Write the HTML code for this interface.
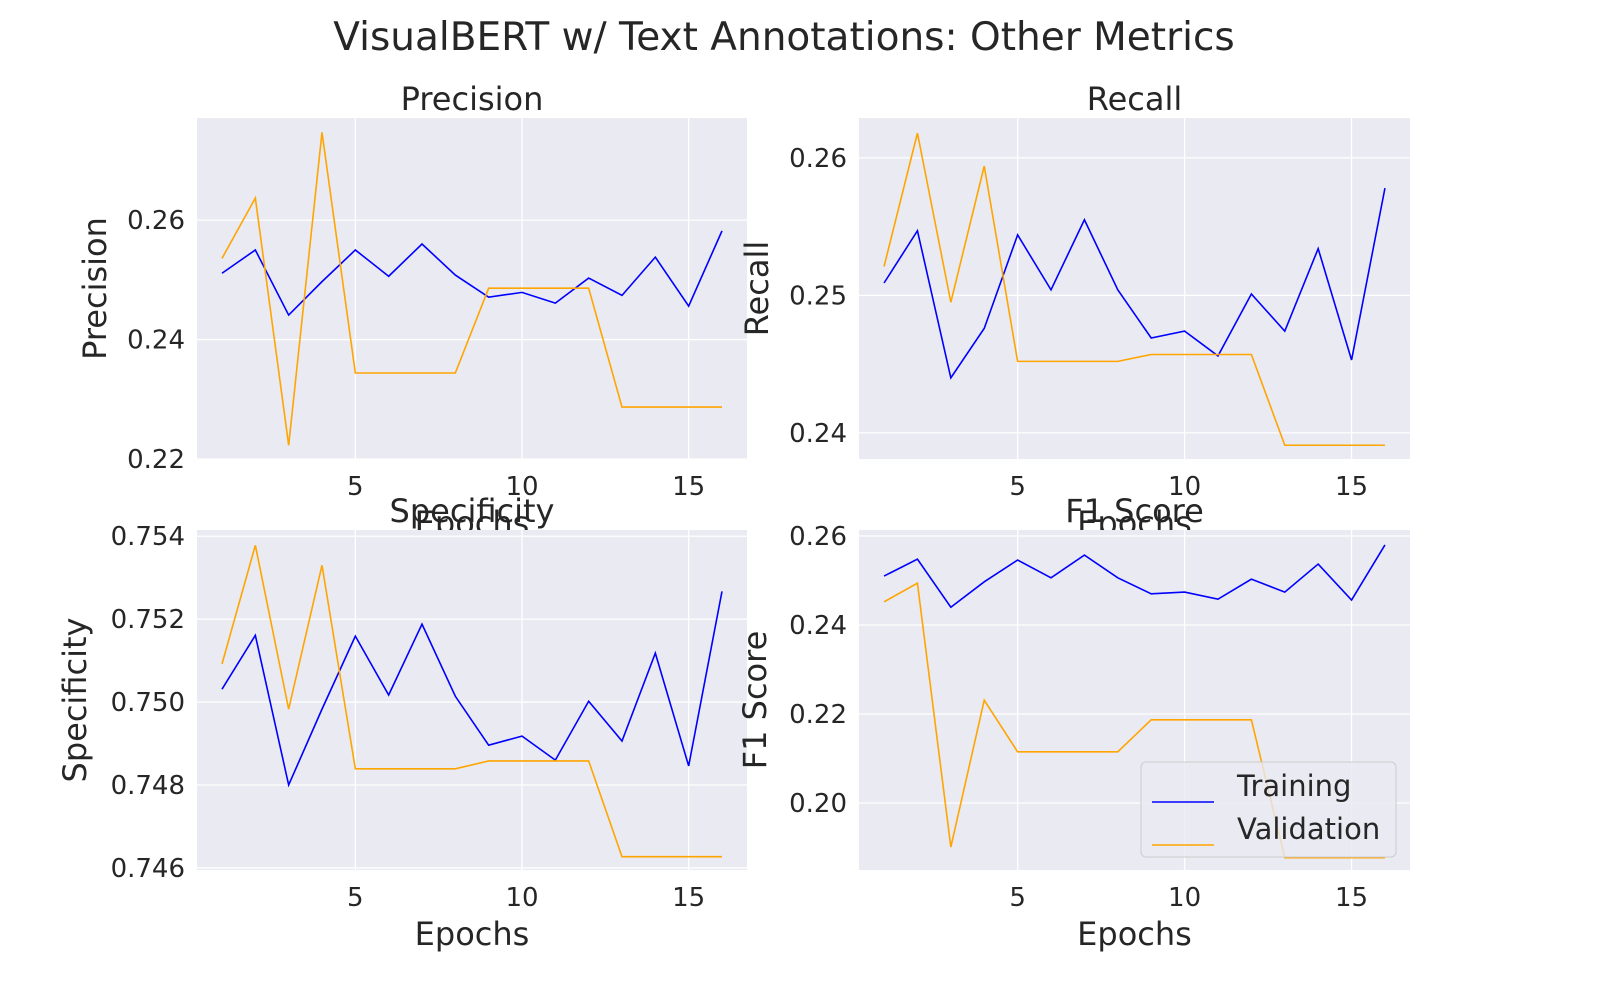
<!DOCTYPE html>
<html><head><meta charset="utf-8"><style>
html,body{margin:0;padding:0;background:#fff;}
svg{display:block;font-family:"DejaVu Sans","Liberation Sans",sans-serif;}
</style></head><body>
<svg id="fig" width="1600" height="1000" viewBox="0 0 1600 1000" xmlns="http://www.w3.org/2000/svg">
<rect width="1600" height="1000" fill="#fff"/>
<text x="784" y="50" text-anchor="middle" font-size="39" fill="#262626">VisualBERT w/ Text Annotations: Other Metrics</text>
</svg>
<script>
const epochs = [1,2,3,4,5,6,7,8,9,10,11,12,13,14,15,16];
const precisionTrain = [0.2511,0.2550,0.2441,0.2497,0.2550,0.2506,0.2560,0.2508,0.2471,0.2479,0.2461,0.2503,0.2474,0.2538,0.2456,0.2582];
const precisionVal = [0.2536,0.2637,0.2223,0.2747,0.2344,0.2344,0.2344,0.2344,0.2486,0.2486,0.2486,0.2486,0.2287,0.2287,0.2287,0.2287];
const recallTrain = [0.2509,0.2547,0.2440,0.2476,0.2544,0.2504,0.2555,0.2504,0.2469,0.2474,0.2456,0.2501,0.2474,0.2534,0.2453,0.2578];
const recallVal = [0.2521,0.2618,0.2495,0.2594,0.2452,0.2452,0.2452,0.2452,0.2457,0.2457,0.2457,0.2457,0.2391,0.2391,0.2391,0.2391];
const specTrain = [0.75031,0.75161,0.74800,0.74983,0.75159,0.75017,0.75188,0.75014,0.74896,0.74918,0.74860,0.75002,0.74906,0.75118,0.74846,0.75267];
const specVal = [0.75092,0.75378,0.74983,0.75330,0.74839,0.74839,0.74839,0.74839,0.74858,0.74858,0.74858,0.74858,0.74627,0.74627,0.74627,0.74627];
const f1Train = [0.2510,0.2548,0.2440,0.2497,0.2546,0.2506,0.2557,0.2506,0.2470,0.2474,0.2458,0.2503,0.2474,0.2537,0.2456,0.2580];
const f1Val = [0.2452,0.2494,0.1901,0.2231,0.2115,0.2115,0.2115,0.2115,0.2187,0.2187,0.2187,0.2187,0.1877,0.1877,0.1877,0.1877];
const xTicks = [5,10,15];
const precisionTicks = ["0.22","0.24","0.26"];
const recallTicks = ["0.24","0.25","0.26"];
const specTicks = ["0.746","0.748","0.750","0.752","0.754"];
const f1Ticks = ["0.20","0.22","0.24","0.26"];

const NS="http://www.w3.org/2000/svg";
const svg=document.getElementById('fig');
function mk(tag,attrs,parent){const e=document.createElementNS(NS,tag);for(const k in attrs)e.setAttribute(k,attrs[k]);(parent||svg).appendChild(e);return e;}

const panels=[
 {name:'precision',title:'Precision',ylab:'Precision',x0:197,x1:747,y0:118,y1:459,ymin:0.22,ymax:0.2771,ticks:precisionTicks,tr:precisionTrain,va:precisionVal,ylx:106},
 {name:'recall',title:'Recall',ylab:'Recall',x0:859,x1:1410,y0:118,y1:459,ymin:0.2381,ymax:0.2629,ticks:recallTicks,tr:recallTrain,va:recallVal,ylx:768},
 {name:'specificity',title:'Specificity',ylab:'Specificity',x0:197,x1:747,y0:530,y1:870,ymin:0.74595,ymax:0.75415,ticks:specTicks,tr:specTrain,va:specVal,ylx:86},
 {name:'f1',title:'F1 Score',ylab:'F1 Score',x0:859,x1:1410,y0:530,y1:870,ymin:0.18494,ymax:0.26135,ticks:f1Ticks,tr:f1Train,va:f1Val,ylx:766,legend:true}
];
const xmin=0.25,xmax=16.75;
panels.forEach(p=>{
  const g=mk('g',{});
  
  
  const X=v=>p.x0+(v-xmin)/(xmax-xmin)*(p.x1-p.x0);
  const Y=v=>p.y1-(v-p.ymin)/(p.ymax-p.ymin)*(p.y1-p.y0);
  const bg=mk('rect',{x:p.x0,y:p.y0,width:p.x1-p.x0,height:p.y1-p.y0,fill:'#eaeaf2'},g);
  
  
  xTicks.forEach(t=>{
    const x=X(t);
    mk('line',{x1:x,x2:x,y1:p.y0,y2:p.y1,stroke:'#fff','stroke-width':1.3},g);
    const tx=mk('text',{x:x,y:p.y1+36,'text-anchor':'middle','font-size':26,fill:'#262626'},g);
    tx.textContent=t;
    
    
  });
  p.ticks.forEach(t=>{
    const y=Y(parseFloat(t));
    mk('line',{x1:p.x0,x2:p.x1,y1:y,y2:y,stroke:'#fff','stroke-width':1.3},g);
    const tx=mk('text',{x:p.x0-12,y:y+9,'text-anchor':'end','font-size':26,fill:'#262626'},g);
    tx.textContent=t;
    
    
  });
  const tt=mk('text',{x:(p.x0+p.x1)/2,y:p.y0-8,'text-anchor':'middle','font-size':32,fill:'#262626'},g);
  tt.textContent=p.title;
  
  
  const xl=mk('text',{x:(p.x0+p.x1)/2,y:p.y1+75,'text-anchor':'middle','font-size':32,fill:'#262626'},g);
  xl.textContent='Epochs';
  
  
  const cy=(p.y0+p.y1)/2;
  const yl=mk('text',{x:p.ylx,y:cy,'text-anchor':'middle','font-size':32,fill:'#262626',transform:`rotate(-90 ${p.ylx} ${cy})`},g);
  yl.textContent=p.ylab;
  
  
  const clipId='clip-'+p.name;
  const cp=mk('clipPath',{id:clipId},g);
  mk('rect',{x:p.x0,y:p.y0,width:p.x1-p.x0,height:p.y1-p.y0},cp);
  const l1=mk('polyline',{points:epochs.map((e,i)=>X(e)+','+Y(p.tr[i])).join(' '),fill:'none',stroke:'#0000ff','stroke-width':1.6,'clip-path':`url(#${clipId})`},g);
  
  
  const l2=mk('polyline',{points:epochs.map((e,i)=>X(e)+','+Y(p.va[i])).join(' '),fill:'none',stroke:'#ffa500','stroke-width':1.6,'clip-path':`url(#${clipId})`},g);
  
  
  if(p.legend){
    const lg=mk('g',{},g);
    
    
    mk('rect',{x:1141,y:762,width:255,height:95,rx:5,fill:'#eaeaf2','fill-opacity':0.8,stroke:'#cccccc','stroke-width':1},lg);
    mk('line',{x1:1152,x2:1214,y1:802,y2:802,stroke:'#0000ff','stroke-width':1.6},lg);
    const a=mk('text',{x:1237,y:796,'font-size':29,fill:'#262626'},lg);a.textContent='Training';
    
    
    mk('line',{x1:1152,x2:1214,y1:845,y2:845,stroke:'#ffa500','stroke-width':1.6},lg);
    const b=mk('text',{x:1237,y:839,'font-size':29,fill:'#262626'},lg);b.textContent='Validation';
    
    
  }
});
</script>
</body></html>
